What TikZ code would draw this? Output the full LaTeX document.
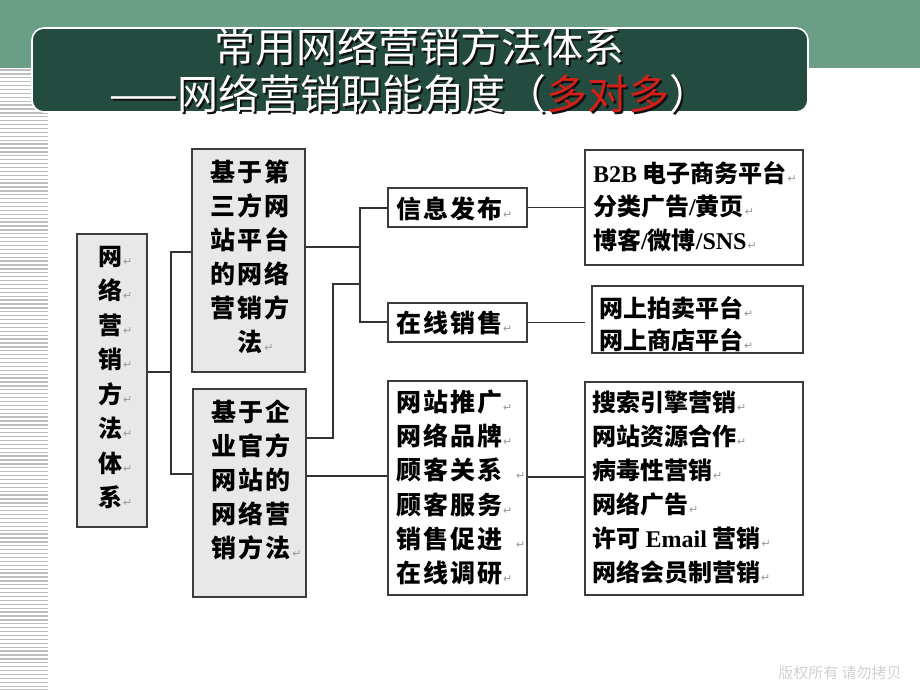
\documentclass[tikz,border=0pt]{standalone}
\usepackage{fontspec}
\newfontfamily\cjk{Noto Sans CJK SC}
\newfontfamily\cjkw{Noto Sans CJK SC}[LetterSpace=8]
\newfontfamily\lat{Liberation Serif}
\newfontfamily\djv{DejaVu Sans}
\definecolor{bandgreen}{HTML}{6A9E86}
\definecolor{titlegreen}{HTML}{234B40}
\definecolor{titlered}{HTML}{D42018}
\definecolor{boxgray}{HTML}{E8E8E8}
\definecolor{boxline}{HTML}{3C3C3C}
\definecolor{linecol}{HTML}{333333}
\definecolor{stripegray}{HTML}{BDBDBD}
\definecolor{pmgray}{HTML}{9A9A9A}
\definecolor{footgray}{HTML}{D0D0D0}
\definecolor{shadowcol}{HTML}{111111}
\newcommand\pmk{\rlap{\hspace{1pt}\djv\mdseries\fontsize{11}{11}\selectfont\textcolor{pmgray}{↵}}}
\newcommand\pmkf{\rlap{\hspace{14pt}\djv\mdseries\fontsize{11}{11}\selectfont\textcolor{pmgray}{↵}}}
\newcommand\shadowed[2]{\rlap{\hspace{2pt}\raisebox{-2pt}{\textcolor{shadowcol}{#1}}}#2}
\begin{document}
\begin{tikzpicture}[x=1pt,y=-1pt,
  stripe/.style={draw=stripegray, line width=1.3pt},
  titlebox/.style={draw=white, line width=1.6pt, fill=titlegreen, rounded corners=12pt, minimum width=776pt, minimum height=84pt, inner sep=0pt},
  titletext/.style={font=\cjk\fontsize{41}{46}\selectfont, text=white, inner sep=0pt},
  box/.style={draw=boxline, line width=1.6pt, inner sep=0pt},
  graybox/.style={box, fill=boxgray},
  whitebox/.style={box, fill=white},
  bigtxt/.style={font=\cjkw\bfseries\fontsize{25}{30}\selectfont, inner sep=0pt},
  smalltxt/.style={font=\cjk\bfseries\fontsize{24}{30}\selectfont, inner sep=0pt},
  conn/.style={draw=linecol, line width=1.3pt},
  foot/.style={font=\cjk\fontsize{15}{15}\selectfont, text=footgray, inner sep=0pt}
]
\useasboundingbox (0,0) rectangle (920,690);
% background band and stripes
\fill[bandgreen] (0,0) rectangle (920,68);
\foreach \i in {0,...,159} \draw[stripe] (0,{70+3.9*\i}) -- (48,{70+3.9*\i});
% title
\node[titlebox] (tb) at (420,70) {};
\node[titletext] (t1) at (419,47.5) {\shadowed{常用网络营销方法体系}{常用网络营销方法体系}};
\node[titletext] (t2) at (410,94.5) {\shadowed{——网络营销职能角度（多对多）}{——网络营销职能角度（\textcolor{titlered}{多对多}）}};
% boxes
\node[graybox, minimum width=70pt, minimum height=293pt] (A) at (112,380.5) {};
\node[graybox, minimum width=113pt, minimum height=223pt] (B) at (248.5,260.5) {};
\node[graybox, minimum width=113pt, minimum height=208pt] (C) at (249.5,493) {};
\node[whitebox, minimum width=139pt, minimum height=39pt] (D) at (457.5,207.5) {};
\node[whitebox, minimum width=139pt, minimum height=39pt] (E) at (457.5,322.5) {};
\node[whitebox, minimum width=139pt, minimum height=214pt] (F) at (457.5,488) {};
\node[whitebox, minimum width=218pt, minimum height=115pt] (G) at (694,207.5) {};
\node[whitebox, minimum width=211pt, minimum height=67pt] (H) at (697.5,319.5) {};
\node[whitebox, minimum width=218pt, minimum height=213pt] (I) at (694,488.5) {};
% texts
\foreach \t [count=\i from 0] in {网,络,营,销,方,法,体,系}
  \node[smalltxt, anchor=base] (A\i) at (110,{265+34.5*\i}) {\t\pmk};
\foreach \t [count=\i from 0] in {基于第,三方网,站平台,的网络,营销方,法}
  \node[bigtxt, anchor=base] (B\i) at (250,{181.5+34*\i}) {\t};
\node[bigtxt, anchor=base west] (Bm) at (B5.base east) {\pmk};
\foreach \t [count=\i from 0] in {基于企,业官方,网站的,网络营,销方法}
  \node[bigtxt, anchor=base] (C\i) at (251,{421.5+34*\i}) {\t};
\node[bigtxt, anchor=base west] (Cm) at (C4.base east) {\pmk};
\node[bigtxt, anchor=base west] (D0) at (396,218.5) {信息发布\pmk};
\node[bigtxt, anchor=base west] (E0) at (396,332.5) {在线销售\pmk};
\foreach \t [count=\i from 0] in {网站推广\pmk,网络品牌\pmk,顾客关系\pmkf,顾客服务\pmk,销售促进\pmkf,在线调研\pmk}
  \node[bigtxt, anchor=base west] (F\i) at (396,{411.5+34.2*\i}) {\t};
\foreach \t [count=\i from 0] in {{{\lat\bfseries B2B} 电子商务平台\pmk},{分类广告{\lat\bfseries /}黄页\pmk},{博客{\lat\bfseries /}微博{\lat\bfseries /SNS}\pmk}}
  \node[smalltxt, anchor=base west] (G\i) at (593,{182+33.5*\i}) {\t};
\foreach \t [count=\i from 0] in {网上拍卖平台\pmk,网上商店平台\pmk}
  \node[smalltxt, anchor=base west] (H\i) at (599,{317+32*\i}) {\t};
\foreach \t [count=\i from 0] in {搜索引擎营销\pmk,网站资源合作\pmk,病毒性营销\pmk,网络广告\pmk,{许可 {\lat\bfseries Email} 营销\pmk},网络会员制营销\pmk}
  \node[smalltxt, anchor=base west] (I\i) at (592,{411+34*\i}) {\t};
% connectors
\coordinate (J1) at (171,372);
\coordinate (J1t) at (171,252);
\coordinate (J1b) at (171,474);
\draw[conn] (A.east |- J1) -- (J1);
\draw[conn] (B.west |- J1t) -- (J1t) -- (J1b) -- (C.west |- J1b);
\coordinate (J2) at (360,247);
\coordinate (J2t) at (360,208);
\coordinate (J2b) at (360,322);
\coordinate (J2m) at (360,284);
\coordinate (J3) at (333,284);
\coordinate (J3b) at (333,438);
\draw[conn] (B.east |- J2) -- (J2);
\draw[conn] (D.west |- J2t) -- (J2t) -- (J2b) -- (E.west |- J2b);
\draw[conn] (J2m) -- (J3) -- (J3b) -- (C.east |- J3b);
\coordinate (K1) at (0,476);
\draw[conn] (C.east |- K1) -- (F.west |- K1);
\draw[conn] (D.east) -- (G.west |- D.east);
\coordinate (Hin) at (585,322.5);
\draw[conn] (E.east) -- (Hin);
\coordinate (K2) at (0,477);
\draw[conn] (F.east |- K2) -- (I.west |- K2);
% footer
\node[foot] (ft) at (840,673) {版权所有\ 请勿拷贝};
\end{tikzpicture}
\end{document}
